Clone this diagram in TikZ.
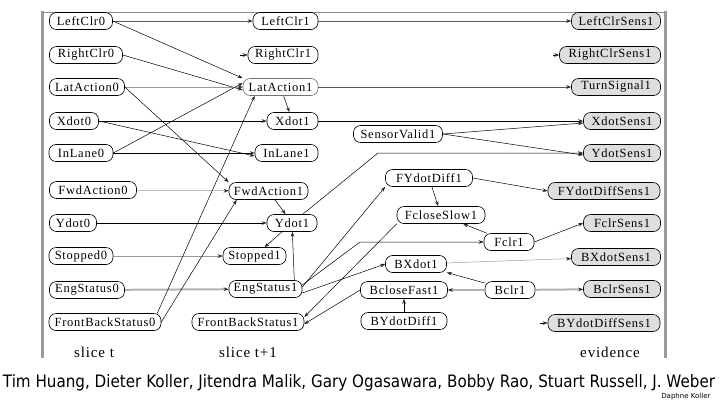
\documentclass[tikz,border=0pt]{standalone}
\usepackage{fontspec}
\setmainfont{Liberation Serif}
\newfontfamily\nodefont[LetterSpace=6]{Liberation Serif}
\newfontfamily\capfont{DejaVu Sans}
\usetikzlibrary{arrows.meta}
\begin{document}
\begin{tikzpicture}[x=1pt,y=-1pt,
  v/.style={draw, rounded corners=7pt, font=\nodefont\fontsize{12.5}{12.5}\selectfont, inner sep=0pt, minimum height=17pt, line width=0.6pt},
  ev/.style={v, fill=black!13},
  e/.style={-{Stealth[length=5pt,width=3.6pt,color=black!85]}, line width=0.5pt},
  be/.style={e, line width=0.8pt},
  de/.style={e, draw=black!65, line width=0.7pt},
  ge/.style={e, draw=black!40},
  te/.style={e, draw=black!30, line width=2pt},
  lab/.style={font=\nodefont\fontsize{15}{15}\selectfont}
]
\useasboundingbox (0,0) rectangle (720,405);
% frame
\draw[black!45, line width=0.6pt] (42,12) -- (665,12);
\draw[black!40, line width=3pt] (42,11) -- (42,358);
\draw[black!40, line width=3pt] (665,11) -- (665,358);

% slice t
\node[v, minimum width=63pt] (LeftClr0) at (81,21) {LeftClr0};
\node[v, minimum width=73pt] (RightClr0) at (86,55) {RightClr0};
\node[v, minimum width=75pt] (LatAction0) at (87,87) {LatAction0};
\node[v, minimum width=49pt] (Xdot0) at (74,121) {Xdot0};
\node[v, minimum width=64pt] (InLane0) at (81,153) {InLane0};
\node[v, minimum width=87pt] (FwdAction0) at (93,190) {FwdAction0};
\node[v, minimum width=47pt] (Ydot0) at (73,223) {Ydot0};
\node[v, minimum width=64pt] (Stopped0) at (81,256) {Stopped0};
\node[v, minimum width=75pt] (EngStatus0) at (87,290) {EngStatus0};
\node[v, minimum width=112pt] (FBS0) at (105,322) {FrontBackStatus0};

% slice t+1
\node[v, minimum width=65pt] (LeftClr1) at (285.5,21) {LeftClr1};
\node[v, minimum width=70pt] (RightClr1) at (283,55) {RightClr1};
\node[v, draw=black!55, minimum width=75pt] (LatAction1) at (280.5,87) {LatAction1};
\node[v, minimum width=51pt] (Xdot1) at (292.5,121) {Xdot1};
\node[v, minimum width=63pt] (InLane1) at (286.5,153) {InLane1};
\node[v, minimum width=79pt] (FwdAction1) at (268.5,191) {FwdAction1};
\node[v, minimum width=50pt] (Ydot1) at (292,223) {Ydot1};
\node[v, minimum width=63pt] (Stopped1) at (254.5,256) {Stopped1};
\node[v, minimum width=73pt] (EngStatus1) at (265.5,289) {EngStatus1};
\node[v, minimum width=112pt] (FBS1) at (248,322) {FrontBackStatus1};

\node[v, minimum width=89pt] (SensorValid1) at (398,134) {SensorValid1};
\node[v, minimum width=87pt] (FYdotDiff1) at (429,178) {FYdotDiff1};
\node[v, minimum width=88pt] (FcloseSlow1) at (441,215) {FcloseSlow1};
\node[v, minimum width=50pt] (Fclr1) at (509,242) {Fclr1};
\node[v, minimum width=61pt] (BXdot1) at (416,264) {BXdot1};
\node[v, minimum width=87pt] (BcloseFast1) at (404,290) {BcloseFast1};
\node[v, minimum width=50pt] (Bclr1) at (510,290) {Bclr1};
\node[v, minimum width=86pt] (BYdotDiff1) at (404,321) {BYdotDiff1};

% evidence
\node[ev, minimum width=89pt] (LeftClrSens1) at (616,21) {LeftClrSens1};
\node[ev, minimum width=101pt] (RightClrSens1) at (610,55) {RightClrSens1};
\node[ev, minimum width=89pt] (TurnSignal1) at (616,87) {TurnSignal1};
\node[ev, minimum width=77pt] (XdotSens1) at (622,121) {XdotSens1};
\node[ev, minimum width=77pt] (YdotSens1) at (622,153) {YdotSens1};
\node[ev, minimum width=112pt] (FYdotDiffSens1) at (604,191) {FYdotDiffSens1};
\node[ev, minimum width=77pt] (FclrSens1) at (622,223) {FclrSens1};
\node[ev, minimum width=89pt] (BXdotSens1) at (616,257) {BXdotSens1};
\node[ev, minimum width=77pt] (BclrSens1) at (622,289) {BclrSens1};
\node[ev, minimum width=112pt] (BYdotDiffSens1) at (604,323) {BYdotDiffSens1};

% labels
\node[lab] (lt) at (94,352) {slice t};
\node[lab] (lt1) at (248,352) {slice t+1};
\node[lab] (lev) at (610,352) {evidence};
\node (cap) at (359,383) {\capfont\resizebox{712pt}{13pt}{Tim Huang, Dieter Koller, Jitendra Malik, Gary Ogasawara, Bobby Rao, Stuart Russell, J. Weber}};
\node[font=\capfont\fontsize{7}{7}\selectfont, anchor=east] (dk) at (714,397) {Daphne Koller};

% coordinates for stubs and bends
\coordinate (s1) at (240,55);
\coordinate (s2) at (553,55);
\coordinate (s3) at (540,323);
\coordinate (c1) at (378,153);
\coordinate (c2) at (360,242);

% edges
\draw[de] (LeftClr0) -- (LeftClr1);
\draw[de] (LeftClr1) -- (LeftClrSens1);
\draw[e] (LeftClr0.east) -- (LatAction1.north west);
\draw[e] (RightClr0.east) -- ([yshift=-3pt]LatAction1.west);
\draw[ge] (LatAction0) -- (LatAction1);
\draw[de] (LatAction1) -- (TurnSignal1);
\draw[e] (LatAction0.east) -- (FwdAction1.north west);
\draw[be] (Xdot0) -- (Xdot1);
\draw[be] (Xdot1) -- (XdotSens1);
\draw[e] (Xdot0.east) -- ([yshift=-3pt]InLane1.west);
\draw[be] (InLane0) -- (InLane1);
\draw[e] (InLane0.east) -- ([yshift=4pt]LatAction1.west);
\draw[e] (LatAction1) -- (Xdot1);
\draw[e] (SensorValid1.east) -- ([yshift=-2pt]XdotSens1.west);
\draw[e] (SensorValid1.east) -- ([yshift=-2pt]YdotSens1.west);
\draw[e] (Ydot1) -- (c1) -- (YdotSens1.west);
\draw[ge] (FwdAction0) -- (FwdAction1);
\draw[e] (FwdAction1) -- (Ydot1);
\draw[be] (Ydot0) -- (Ydot1);
\draw[e] (Ydot1) -- (Stopped1);
\draw[ge] (Stopped0) -- (Stopped1);
\draw[te] (EngStatus0) -- (EngStatus1);
\draw[e] ([xshift=-8pt]EngStatus1.north east) -- (Ydot1);
\draw[e] ([xshift=-4pt]FBS0.north east) -- ([xshift=12pt]LatAction1.south west);
\draw[e] (FBS0.east) -- ([xshift=8pt]FwdAction1.south west);
\draw[e] ([yshift=2pt]EngStatus1.east) -- (FYdotDiff1.south west);
\draw[e] ([yshift=4pt]EngStatus1.east) -- (c2) -- (Fclr1);
\draw[e] ([yshift=-4pt]EngStatus1.east) -- (BXdot1.west);
\draw[e] (FcloseSlow1.south west) -- ([yshift=5pt]FBS1.east);
\draw[e] (BcloseFast1.west) -- ([yshift=-2pt]FBS1.east);
\draw[e] (FYdotDiff1) -- (FcloseSlow1);
\draw[e] (FYdotDiff1.east) -- (FYdotDiffSens1.west);
\draw[e] (Fclr1) -- (FcloseSlow1);
\draw[e] (Fclr1.east) -- (FclrSens1.west);
\draw[ge] (BXdot1) -- (BXdotSens1);
\draw[e] (Bclr1) -- (BXdot1);
\draw[te] (Bclr1) -- (BcloseFast1);
\draw[te] (Bclr1) -- (BclrSens1);
\draw[e] (BYdotDiff1) -- (BcloseFast1);
\draw[e] (s1) -- (RightClr1);
\draw[e] (s2) -- (RightClrSens1);
\draw[e] (s3) -- (BYdotDiffSens1);
\end{tikzpicture}
\end{document}
